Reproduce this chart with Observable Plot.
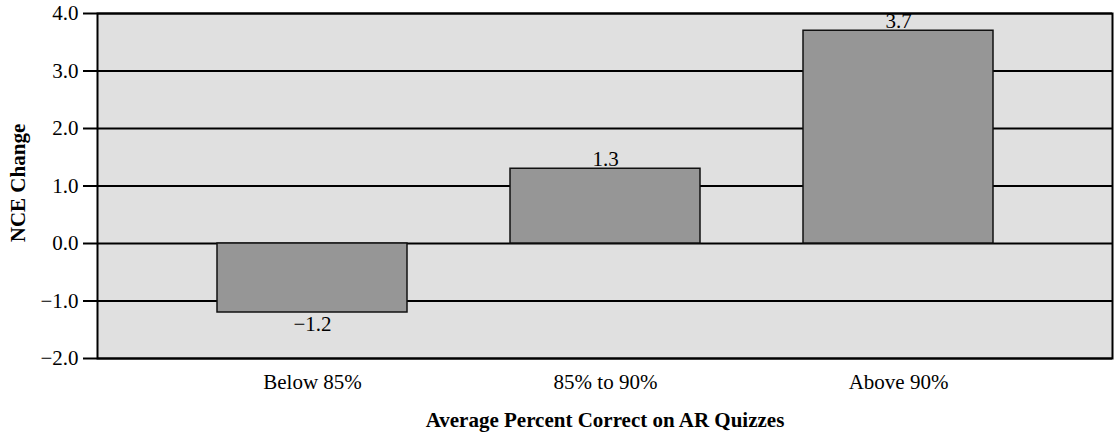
<!DOCTYPE html>
<html>
<head>
<meta charset="utf-8">
<script src="https://cdn.jsdelivr.net/npm/d3@7"></script>
<script src="https://cdn.jsdelivr.net/npm/@observablehq/plot@0.6"></script>
<style>
  html, body { margin: 0; padding: 0; background: #ffffff; }
</style>
</head>
<body>
<div id="chart"></div>
<script>
// Change in NCE score by average percent correct on AR quizzes
const categories = ["Below 85%", "85% to 90%", "Above 90%"];
const nceChange = [-1.2, 1.3, 3.7];
const yTicks = [-2, -1, 0, 1, 2, 3, 4];
const yTitle = "NCE Change";
const xTitle = "Average Percent Correct on AR Quizzes";

const data = categories.map((c, i) => ({category: c, value: nceChange[i]}));
const fmt = d3.format(".1f");

const chart = Plot.plot({
  width: 1115,
  height: 442,
  marginLeft: 97,
  marginRight: 3,
  marginTop: 13,
  marginBottom: 84,
  style: {fontFamily: "'Liberation Serif', 'Times New Roman', serif", fontSize: "21px", color: "#000", background: "#fff"},
  x: {domain: categories, paddingInner: 0.353, paddingOuter: 0.405},
  y: {domain: [-2, 4]},
  marks: [
    Plot.frame({fill: "#e0e0e0", stroke: null}),
    Plot.ruleY(yTicks, {stroke: "#000", strokeWidth: 2}),
    Plot.frame({stroke: "#000", strokeWidth: 2}),
    Plot.barY(data, {x: "category", y: "value", fill: "#969696", stroke: "#111", strokeWidth: 1.5}),
    // value labels: above positive bars, below negative ones
    Plot.text(data.filter(d => d.value >= 0), {
      x: "category", y: "value", text: d => fmt(d.value),
      lineAnchor: "bottom", dy: -3, fill: "#000", fontSize: 21
    }),
    Plot.text(data.filter(d => d.value < 0), {
      x: "category", y: "value", text: d => fmt(d.value),
      lineAnchor: "top", dy: 4, fill: "#000", fontSize: 21
    }),
    Plot.axisY({ticks: yTicks, tickFormat: fmt, tickSize: 14, tickPadding: 5, strokeWidth: 2, label: null, fontSize: 21}),
    Plot.axisX({tickSize: 0, tickPadding: 16, label: null, fontSize: 21}),
    Plot.text([yTitle], {
      frameAnchor: "left", dx: -79, dy: -3, rotate: -90, text: d => d,
      textAnchor: "middle", lineAnchor: "middle",
      fontWeight: "bold", fontSize: 21, fill: "#000"
    }),
    Plot.text([xTitle], {
      frameAnchor: "bottom", dy: 62, text: d => d,
      textAnchor: "middle", lineAnchor: "middle",
      fontWeight: "bold", fontSize: 21, fill: "#000"
    })
  ]
});

document.getElementById("chart").appendChild(chart);
</script>
</body>
</html>
